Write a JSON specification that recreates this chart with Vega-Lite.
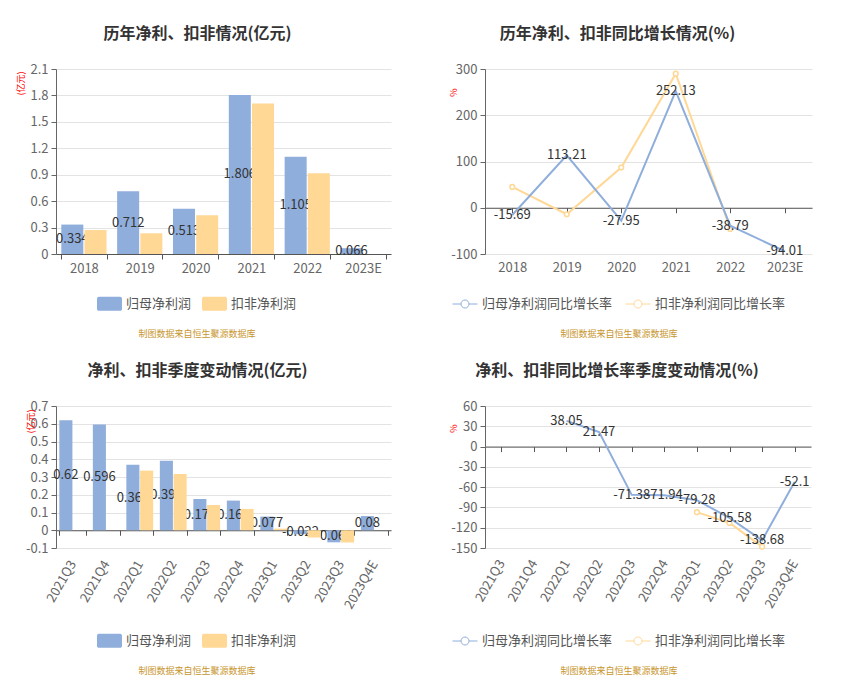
{
  "$schema": "https://vega.github.io/schema/vega-lite/v6.json",
  "padding": {"left": 16, "top": 26, "right": 5, "bottom": 5},
  "config": {
    "view": {"stroke": null},
    "font": "Noto Sans CJK SC",
    "locale": {"number": {"decimal": ".", "thousands": ",", "grouping": [3], "currency": ["", ""], "minus": "-"}},
    "title": {"fontSize": 16, "fontWeight": "bold", "color": "#333333", "anchor": "middle", "frame": "group"},
    "axis": {"labelColor": "#666666", "labelFontSize": 13, "domainColor": "#666666", "tickColor": "#666666", "gridColor": "#e3e3e3", "titleColor": "#ff0000", "titleFontSize": 9, "titleFontWeight": "normal", "tickSize": 5},
    "axisY": {"grid": true, "labelPadding": 3, "format": "~r", "titleAlign": "center", "titleBaseline": "middle"},
    "axisX": {"grid": false, "tickBand": "extent", "domainColor": "#555555", "tickColor": "#555555"},
    "legend": {"labelFontSize": 13, "labelColor": "#555555", "titleFontSize": 9, "titleColor": "#c8962e", "titleFontWeight": "normal", "titleOrient": "bottom", "titleAnchor": "middle", "titlePadding": 19, "columnPadding": 10, "direction": "horizontal", "orient": "none"}
  },
  "datasets": {
    "annual": [
      {"year": "2018", "series": "归母净利润", "value": 0.334},
      {"year": "2019", "series": "归母净利润", "value": 0.712},
      {"year": "2020", "series": "归母净利润", "value": 0.513},
      {"year": "2021", "series": "归母净利润", "value": 1.806},
      {"year": "2022", "series": "归母净利润", "value": 1.105},
      {"year": "2023E", "series": "归母净利润", "value": 0.066},
      {"year": "2018", "series": "扣非净利润", "value": 0.272},
      {"year": "2019", "series": "扣非净利润", "value": 0.235},
      {"year": "2020", "series": "扣非净利润", "value": 0.44},
      {"year": "2021", "series": "扣非净利润", "value": 1.708},
      {"year": "2022", "series": "扣非净利润", "value": 0.918}
    ],
    "annualGrowth": [
      {"year": "2018", "series": "归母净利润同比增长率", "value": -15.69},
      {"year": "2019", "series": "归母净利润同比增长率", "value": 113.21},
      {"year": "2020", "series": "归母净利润同比增长率", "value": -27.95},
      {"year": "2021", "series": "归母净利润同比增长率", "value": 252.13},
      {"year": "2022", "series": "归母净利润同比增长率", "value": -38.79},
      {"year": "2023E", "series": "归母净利润同比增长率", "value": -94.01},
      {"year": "2018", "series": "扣非净利润同比增长率", "value": 45},
      {"year": "2019", "series": "扣非净利润同比增长率", "value": -14},
      {"year": "2020", "series": "扣非净利润同比增长率", "value": 87},
      {"year": "2021", "series": "扣非净利润同比增长率", "value": 290},
      {"year": "2022", "series": "扣非净利润同比增长率", "value": -46}
    ],
    "quarter": [
      {"q": "2021Q3", "series": "归母净利润", "value": 0.62},
      {"q": "2021Q4", "series": "归母净利润", "value": 0.596},
      {"q": "2022Q1", "series": "归母净利润", "value": 0.369},
      {"q": "2022Q2", "series": "归母净利润", "value": 0.392},
      {"q": "2022Q3", "series": "归母净利润", "value": 0.176},
      {"q": "2022Q4", "series": "归母净利润", "value": 0.167},
      {"q": "2023Q1", "series": "归母净利润", "value": 0.077},
      {"q": "2023Q2", "series": "归母净利润", "value": -0.022},
      {"q": "2023Q3", "series": "归母净利润", "value": -0.068},
      {"q": "2023Q4E", "series": "归母净利润", "value": 0.08},
      {"q": "2022Q1", "series": "扣非净利润", "value": 0.336},
      {"q": "2022Q2", "series": "扣非净利润", "value": 0.317},
      {"q": "2022Q3", "series": "扣非净利润", "value": 0.142},
      {"q": "2022Q4", "series": "扣非净利润", "value": 0.12},
      {"q": "2023Q1", "series": "扣非净利润", "value": 0.009},
      {"q": "2023Q2", "series": "扣非净利润", "value": -0.041},
      {"q": "2023Q3", "series": "扣非净利润", "value": -0.069}
    ],
    "quarterGrowth": [
      {"q": "2022Q1", "series": "归母净利润同比增长率", "value": 38.05},
      {"q": "2022Q2", "series": "归母净利润同比增长率", "value": 21.47},
      {"q": "2022Q3", "series": "归母净利润同比增长率", "value": -71.38},
      {"q": "2022Q4", "series": "归母净利润同比增长率", "value": -71.94},
      {"q": "2023Q1", "series": "归母净利润同比增长率", "value": -79.28},
      {"q": "2023Q2", "series": "归母净利润同比增长率", "value": -105.58},
      {"q": "2023Q3", "series": "归母净利润同比增长率", "value": -138.68},
      {"q": "2023Q4E", "series": "归母净利润同比增长率", "value": -52.1},
      {"q": "2023Q1", "series": "扣非净利润同比增长率", "value": -97},
      {"q": "2023Q2", "series": "扣非净利润同比增长率", "value": -113},
      {"q": "2023Q3", "series": "扣非净利润同比增长率", "value": -148}
    ]
  },
  "bounds": "flush",
  "columns": 2,
  "spacing": {"row": 152, "column": 94},
  "resolve": {"scale": {"color": "independent", "x": "independent", "y": "independent", "xOffset": "independent"}, "legend": {"color": "independent"}, "axis": {"x": "independent", "y": "independent"}},
  "concat": [
    {
      "width": 335,
      "height": 185,
      "title": {"text": "历年净利、扣非情况(亿元)", "dx": -26, "offset": 21},
      "data": {"name": "annual"},
      "resolve": {"scale": {"y": "independent"}},
      "encoding": {
        "x": {"field": "year", "type": "nominal", "scale": {"domain": ["2018", "2019", "2020", "2021", "2022", "2023E"], "paddingInner": 0.19, "paddingOuter": 0.095}, "axis": {"title": null, "labelAngle": 0, "labelPadding": 3}},
        "xOffset": {"field": "series", "type": "nominal", "scale": {"domain": ["归母净利润", "扣非净利润"], "paddingInner": 0.05}}
      },
      "layer": [
        {
          "transform": [{"filter": "datum.series === '归母净利润'"}],
          "mark": {"type": "bar"},
          "encoding": {
            "y": {"field": "value", "type": "quantitative", "scale": {"domain": [0, 2.1], "nice": false, "zero": false}, "axis": {"values": [0, 0.3, 0.6, 0.9, 1.2, 1.5, 1.8, 2.1], "title": "(亿元)", "titleX": -36, "titleY": 14}},
            "color": {"field": "series", "type": "nominal", "scale": {"domain": ["归母净利润", "扣非净利润"], "range": ["#8faedc", "#ffd896"]}, "legend": {"title": "制图数据来自恒生聚源数据库", "legendX": 41, "legendY": 222, "symbolType": "M-0.85,-0.56H0.85A0.15,0.15,0,0,1,1,-0.41V0.41A0.15,0.15,0,0,1,0.85,0.56H-0.85A0.15,0.15,0,0,1,-1,0.41V-0.41A0.15,0.15,0,0,1,-0.85,-0.56Z", "symbolSize": 625, "symbolStrokeWidth": 0}}
          }
        },
        {
          "transform": [{"filter": "datum.series === '归母净利润'"}],
          "mark": {"type": "text", "fontSize": 13, "color": "#333333"},
          "encoding": {
            "y": {"field": "value", "type": "quantitative", "scale": {"domain": [0, 4.2], "nice": false, "zero": false}, "axis": null},
            "text": {"field": "value", "type": "nominal"}
          }
        },
        {
          "transform": [{"filter": "datum.series === '扣非净利润'"}],
          "mark": {"type": "bar"},
          "encoding": {
            "y": {"field": "value", "type": "quantitative", "scale": {"domain": [0, 2.1], "nice": false, "zero": false}, "axis": null},
            "color": {"field": "series", "type": "nominal", "scale": {"domain": ["归母净利润", "扣非净利润"], "range": ["#8faedc", "#ffd896"]}}
          }
        }
      ]
    },
    {
      "width": 327,
      "height": 185,
      "title": {"text": "历年净利、扣非同比增长情况(%)", "dx": -31, "offset": 21},
      "data": {"name": "annualGrowth"},
      "encoding": {
        "x": {"field": "year", "type": "nominal", "scale": {"domain": ["2018", "2019", "2020", "2021", "2022", "2023E"], "paddingInner": 0, "paddingOuter": 0}, "axis": {"title": null, "labelAngle": 0, "offset": -46.25, "labelPadding": 49}},
        "y": {"field": "value", "type": "quantitative", "scale": {"domain": [-100, 300], "nice": false, "zero": false}, "axis": {"values": [-100, 0, 100, 200, 300], "title": "%", "titleX": -32, "titleY": 23}}
      },
      "layer": [
        {
          "transform": [{"filter": "datum.series === '扣非净利润同比增长率'"}],
          "mark": {"type": "line", "strokeWidth": 2},
          "encoding": {"color": {"field": "series", "type": "nominal", "scale": {"domain": ["归母净利润同比增长率", "扣非净利润同比增长率"], "range": ["#8faedc", "#ffd896"]}, "legend": {"title": "制图数据来自恒生聚源数据库", "legendX": -33, "legendY": 222, "symbolType": "M-1,0H-0.32M0.32,0H1M0.32,0A0.32,0.32,0,1,1,-0.32,0A0.32,0.32,0,1,1,0.32,0", "symbolSize": 625, "symbolStrokeWidth": 1, "symbolFillColor": "white"}}}
        },
        {
          "transform": [{"filter": "datum.series === '扣非净利润同比增长率'"}],
          "mark": {"type": "point", "filled": false, "fill": "white", "size": 22, "strokeWidth": 1.5, "opacity": 1},
          "encoding": {"color": {"field": "series", "type": "nominal", "scale": {"domain": ["归母净利润同比增长率", "扣非净利润同比增长率"], "range": ["#8faedc", "#ffd896"]}}}
        },
        {
          "transform": [{"filter": "datum.series === '归母净利润同比增长率'"}],
          "mark": {"type": "line", "strokeWidth": 2},
          "encoding": {"color": {"field": "series", "type": "nominal", "scale": {"domain": ["归母净利润同比增长率", "扣非净利润同比增长率"], "range": ["#8faedc", "#ffd896"]}}}
        },
        {
          "transform": [{"filter": "datum.series === '归母净利润同比增长率'"}],
          "mark": {"type": "text", "fontSize": 13, "color": "#333333"},
          "encoding": {"text": {"field": "value", "type": "nominal"}}
        }
      ]
    },
    {
      "width": 335,
      "height": 142,
      "title": {"text": "净利、扣非季度变动情况(亿元)", "dx": -26, "offset": 21},
      "data": {"name": "quarter"},
      "resolve": {"scale": {"y": "independent"}},
      "encoding": {
        "x": {"field": "q", "type": "nominal", "scale": {"domain": ["2021Q3", "2021Q4", "2022Q1", "2022Q2", "2022Q3", "2022Q4", "2023Q1", "2023Q2", "2023Q3", "2023Q4E"], "paddingInner": 0.2, "paddingOuter": 0.1}, "axis": {"title": null, "labelAngle": -60, "offset": -17.75, "labelPadding": 26}},
        "xOffset": {"field": "series", "type": "nominal", "scale": {"domain": ["归母净利润", "扣非净利润"], "paddingInner": 0.05}}
      },
      "layer": [
        {
          "transform": [{"filter": "datum.series === '归母净利润'"}],
          "mark": {"type": "bar"},
          "encoding": {
            "y": {"field": "value", "type": "quantitative", "scale": {"domain": [-0.1, 0.7], "nice": false, "zero": false}, "axis": {"values": [-0.1, 0, 0.1, 0.2, 0.3, 0.4, 0.5, 0.6, 0.7], "title": "(亿元)", "titleX": -26, "titleY": 15}},
            "y2": {"datum": 0},
            "color": {"field": "series", "type": "nominal", "scale": {"domain": ["归母净利润", "扣非净利润"], "range": ["#8faedc", "#ffd896"]}, "legend": {"title": "制图数据来自恒生聚源数据库", "legendX": 41, "legendY": 222, "symbolType": "M-0.85,-0.56H0.85A0.15,0.15,0,0,1,1,-0.41V0.41A0.15,0.15,0,0,1,0.85,0.56H-0.85A0.15,0.15,0,0,1,-1,0.41V-0.41A0.15,0.15,0,0,1,-0.85,-0.56Z", "symbolSize": 625, "symbolStrokeWidth": 0}}
          }
        },
        {
          "transform": [{"filter": "datum.series === '归母净利润'"}],
          "mark": {"type": "text", "fontSize": 13, "color": "#333333"},
          "encoding": {
            "y": {"field": "value", "type": "quantitative", "scale": {"domain": [-0.2, 1.4], "nice": false, "zero": false}, "axis": null},
            "text": {"field": "value", "type": "nominal"}
          }
        },
        {
          "transform": [{"filter": "datum.series === '扣非净利润'"}],
          "mark": {"type": "bar"},
          "encoding": {
            "y": {"field": "value", "type": "quantitative", "scale": {"domain": [-0.1, 0.7], "nice": false, "zero": false}, "axis": null},
            "y2": {"datum": 0},
            "color": {"field": "series", "type": "nominal", "scale": {"domain": ["归母净利润", "扣非净利润"], "range": ["#8faedc", "#ffd896"]}}
          }
        }
      ]
    },
    {
      "width": 326,
      "height": 142,
      "title": {"text": "净利、扣非同比增长率季度变动情况(%)", "dx": -31, "offset": 21},
      "data": {"name": "quarterGrowth"},
      "encoding": {
        "x": {"field": "q", "type": "nominal", "scale": {"domain": ["2021Q3", "2021Q4", "2022Q1", "2022Q2", "2022Q3", "2022Q4", "2023Q1", "2023Q2", "2023Q3", "2023Q4E"], "paddingInner": 0, "paddingOuter": 0}, "axis": {"title": null, "labelAngle": -60, "offset": -101.43, "labelPadding": 109}},
        "y": {"field": "value", "type": "quantitative", "scale": {"domain": [-150, 60], "nice": false, "zero": false}, "axis": {"values": [-150, -120, -90, -60, -30, 0, 30, 60], "title": "%", "titleX": -32, "titleY": 22}}
      },
      "layer": [
        {
          "transform": [{"filter": "datum.series === '扣非净利润同比增长率'"}],
          "mark": {"type": "line", "strokeWidth": 2},
          "encoding": {"color": {"field": "series", "type": "nominal", "scale": {"domain": ["归母净利润同比增长率", "扣非净利润同比增长率"], "range": ["#8faedc", "#ffd896"]}, "legend": {"title": "制图数据来自恒生聚源数据库", "legendX": -33, "legendY": 222, "symbolType": "M-1,0H-0.32M0.32,0H1M0.32,0A0.32,0.32,0,1,1,-0.32,0A0.32,0.32,0,1,1,0.32,0", "symbolSize": 625, "symbolStrokeWidth": 1, "symbolFillColor": "white"}}}
        },
        {
          "transform": [{"filter": "datum.series === '扣非净利润同比增长率'"}],
          "mark": {"type": "point", "filled": false, "fill": "white", "size": 22, "strokeWidth": 1.5, "opacity": 1},
          "encoding": {"color": {"field": "series", "type": "nominal", "scale": {"domain": ["归母净利润同比增长率", "扣非净利润同比增长率"], "range": ["#8faedc", "#ffd896"]}}}
        },
        {
          "transform": [{"filter": "datum.series === '归母净利润同比增长率'"}],
          "mark": {"type": "line", "strokeWidth": 2},
          "encoding": {"color": {"field": "series", "type": "nominal", "scale": {"domain": ["归母净利润同比增长率", "扣非净利润同比增长率"], "range": ["#8faedc", "#ffd896"]}}}
        },
        {
          "transform": [{"filter": "datum.series === '归母净利润同比增长率'"}],
          "mark": {"type": "text", "fontSize": 13, "color": "#333333"},
          "encoding": {"text": {"field": "value", "type": "nominal"}}
        }
      ]
    }
  ]
}
